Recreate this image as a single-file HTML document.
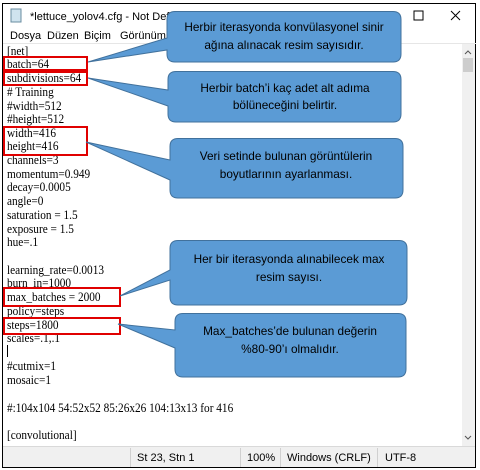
<!DOCTYPE html>
<html><head><meta charset="utf-8"><style>
html,body{margin:0;padding:0;background:#fff;}
svg{display:block}
.m{font-family:"Liberation Serif",serif;font-size:13px;fill:#000}
.u{font-family:"Liberation Sans",sans-serif;font-size:11px;fill:#000}
.c{font-family:"Liberation Sans",sans-serif;font-size:11.8px;fill:#000;text-anchor:middle}
</style></head><body>
<svg width="480" height="470" viewBox="0 0 480 470" xmlns="http://www.w3.org/2000/svg">
<rect x="0" y="0" width="480" height="470" fill="#fff"/>
<rect x="2.5" y="3.5" width="473" height="464" fill="#fff" stroke="#000" stroke-width="1"/>
<rect x="11" y="9" width="10" height="13" fill="#cfe3ee" stroke="#6a8ca0" stroke-width="1"/>
<text class="u" x="30" y="20" font-size="11.5">*lettuce_yolov4.cfg - Not Defteri</text>
<rect x="414" y="11" width="9" height="9" fill="none" stroke="#000" stroke-width="1"/>
<path d="M451 11 L460 20 M460 11 L451 20" stroke="#000" stroke-width="1"/>
<text class="u" x="10" y="39">Dosya</text>
<text class="u" x="47" y="39">Düzen</text>
<text class="u" x="84" y="39">Biçim</text>
<text class="u" x="120" y="39">Görünüm</text>
<line x1="3" y1="43.5" x2="476" y2="43.5" stroke="#e6e6e6"/>
<rect x="462" y="44" width="13" height="402" fill="#f0f0f0"/>
<rect x="463" y="58" width="10" height="14" fill="#cdcdcd"/>
<path d="M465 54 L468 51 L471 54" fill="none" stroke="#555" stroke-width="1"/>
<path d="M465 436 L468 439 L471 436" fill="none" stroke="#555" stroke-width="1"/>
<g class="m" transform="scale(0.87 1)">
<text x="8" y="55">[net]</text>
<text x="8" y="68">batch=64</text>
<text x="8" y="82">subdivisions=64</text>
<text x="8" y="96"># Training</text>
<text x="8" y="110">#width=512</text>
<text x="8" y="123">#height=512</text>
<text x="8" y="137">width=416</text>
<text x="8" y="150">height=416</text>
<text x="8" y="164">channels=3</text>
<text x="8" y="178">momentum=0.949</text>
<text x="8" y="191">decay=0.0005</text>
<text x="8" y="205">angle=0</text>
<text x="8" y="219">saturation = 1.5</text>
<text x="8" y="233">exposure = 1.5</text>
<text x="8" y="246">hue=.1</text>
<text x="8" y="274">learning_rate=0.0013</text>
<text x="8" y="287">burn_in=1000</text>
<text x="8" y="301">max_batches = 2000</text>
<text x="8" y="315">policy=steps</text>
<text x="8" y="329">steps=1800</text>
<text x="8" y="342">scales=.1,.1</text>
<text x="8" y="370">#cutmix=1</text>
<text x="8" y="384">mosaic=1</text>
<text x="8" y="412">#:104x104 54:52x52 85:26x26 104:13x13 for 416</text>
<text x="8" y="439">[convolutional]</text>
<text x="8" y="452">batch_normalize=1</text>
</g>
<line x1="7.5" y1="345" x2="7.5" y2="357" stroke="#000"/>
<rect x="3" y="447" width="472" height="20" fill="#f0f0f0"/>
<line x1="3" y1="446.5" x2="475" y2="446.5" stroke="#d9d9d9"/>
<rect x="3" y="441" width="459" height="5" fill="#fff"/>
<g stroke="#d0d0d0"><line x1="130.5" y1="448" x2="130.5" y2="467"/><line x1="240.5" y1="448" x2="240.5" y2="467"/><line x1="280.5" y1="448" x2="280.5" y2="467"/><line x1="377.5" y1="448" x2="377.5" y2="467"/></g>
<g class="u"><text x="137" y="461">St 23, Stn 1</text><text x="247" y="461">100%</text><text x="287" y="461">Windows (CRLF)</text><text x="385" y="461">UTF-8</text></g>
<g fill="none" stroke="#e00000" stroke-width="2">
<rect x="4" y="57" width="83" height="13"/>
<rect x="4" y="72" width="83" height="13"/>
<rect x="4" y="127" width="83" height="28"/>
<rect x="4" y="288" width="116" height="18"/>
<rect x="4" y="318" width="116" height="16"/>
</g>
<g fill="#5b9bd5" stroke="#41719c" stroke-width="1">
<path d="M175 11.5 H393 Q401 11.5 401 19.5 V54 Q401 62 393 62 H175 Q167 62 167 54 V50 L88 62 L167 38 V19.5 Q167 11.5 175 11.5 Z"/>
<path d="M176 71.5 H393 Q401 71.5 401 79.5 V114 Q401 122 393 122 H176 Q168 122 168 114 V106 L88 78 L168 90 V79.5 Q168 71.5 176 71.5 Z"/>
<path d="M178 138.5 H395 Q403 138.5 403 146.5 V190 Q403 198 395 198 H178 Q170 198 170 190 V180 L86 142 L170 160 V146.5 Q170 138.5 178 138.5 Z"/>
<path d="M178 240.5 H399 Q407 240.5 407 248.5 V297 Q407 305 399 305 H178 Q170 305 170 297 V280 L120 296 L170 270 V248.5 Q170 240.5 178 240.5 Z"/>
<path d="M183 313.5 H398 Q406 313.5 406 321.5 V369 Q406 377 398 377 H183 Q175 377 175 369 V348 L118 324 L175 330 V321.5 Q175 313.5 183 313.5 Z"/>
</g>
<g class="c">
<text x="284" y="31">Herbir iterasyonda konvülasyonel sinir</text>
<text x="284" y="49">ağına alınacak resim sayısıdır.</text>
<text x="285" y="92">Herbir batch’i kaç adet alt adıma</text>
<text x="285" y="109">bölüneceğini belirtir.</text>
<text x="286" y="160">Veri setinde bulunan görüntülerin</text>
<text x="286" y="178">boyutlarının ayarlanması.</text>
<text x="289" y="263">Her bir iterasyonda alınabilecek max</text>
<text x="289" y="281">resim sayısı.</text>
<text x="290" y="335">Max_batches’de bulunan değerin</text>
<text x="290" y="353">%80-90’ı olmalıdır.</text>
</g>
</svg>
</body></html>
